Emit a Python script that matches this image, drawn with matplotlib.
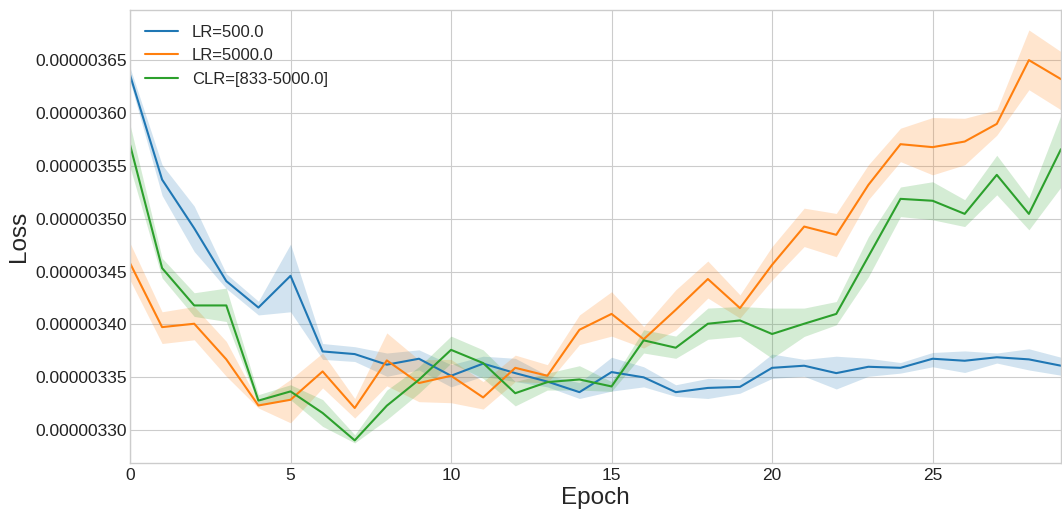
import matplotlib.pyplot as plt
from matplotlib.ticker import FormatStrFormatter

epochs = list(range(30))

# mean loss per epoch (x1e-6) and the band
lr500 = [3.636, 3.537, 3.491, 3.441, 3.416, 3.446, 3.3745, 3.372, 3.362, 3.3676,
         3.3515, 3.363, 3.354, 3.346, 3.336, 3.355, 3.350, 3.336, 3.340, 3.341,
         3.359, 3.361, 3.354, 3.360, 3.359, 3.3676, 3.3657, 3.369, 3.367, 3.361]
lr500_lo = [3.630, 3.522, 3.469, 3.434, 3.409, 3.412, 3.367, 3.365, 3.351, 3.357,
            3.341, 3.351, 3.346, 3.341, 3.330, 3.337, 3.341, 3.332, 3.330, 3.335,
            3.349, 3.351, 3.339, 3.351, 3.354, 3.360, 3.3546, 3.3635, 3.357, 3.352]
lr500_hi = [3.643, 3.551, 3.512, 3.448, 3.422, 3.476, 3.382, 3.379, 3.373, 3.376,
            3.362, 3.370, 3.368, 3.352, 3.345, 3.369, 3.360, 3.343, 3.349, 3.348,
            3.372, 3.367, 3.370, 3.368, 3.364, 3.3735, 3.375, 3.373, 3.377, 3.369]

lr5000 = [3.458, 3.3975, 3.4007, 3.367, 3.3234, 3.3288, 3.3556, 3.321, 3.366, 3.3446,
          3.3515, 3.331, 3.359, 3.3515, 3.395, 3.410, 3.386, 3.4139, 3.443, 3.4155,
          3.4564, 3.4926, 3.4848, 3.532, 3.5705, 3.5677, 3.573, 3.5897, 3.650, 3.632]
lr5000_lo = [3.442, 3.382, 3.3855, 3.351, 3.321, 3.307, 3.340, 3.3115, 3.342, 3.327,
             3.326, 3.320, 3.346, 3.3446, 3.381, 3.389, 3.3777, 3.395, 3.425, 3.406,
             3.442, 3.4737, 3.464, 3.518, 3.554, 3.5415, 3.551, 3.579, 3.622, 3.603]
lr5000_hi = [3.477, 3.412, 3.417, 3.384, 3.327, 3.348, 3.373, 3.330, 3.392, 3.3666,
             3.367, 3.346, 3.371, 3.362, 3.409, 3.431, 3.398, 3.4328, 3.460, 3.428,
             3.4737, 3.510, 3.505, 3.551, 3.5856, 3.5957, 3.595, 3.603, 3.6785, 3.658]

clr = [3.570, 3.4533, 3.418, 3.418, 3.328, 3.3367, 3.3163, 3.2904, 3.3232, 3.3477,
       3.376, 3.3635, 3.335, 3.3455, 3.348, 3.3414, 3.385, 3.378, 3.4007, 3.4038,
       3.391, 3.4007, 3.410, 3.4643, 3.5188, 3.517, 3.5046, 3.5415, 3.5046, 3.5658]
clr_lo = [3.549, 3.444, 3.4076, 3.4028, 3.324, 3.3288, 3.3036, 3.288, 3.310, 3.335,
          3.3635, 3.349, 3.323, 3.338, 3.338, 3.3367, 3.373, 3.368, 3.386, 3.3887,
          3.368, 3.3887, 3.3997, 3.445, 3.502, 3.499, 3.4926, 3.5226, 3.4895, 3.530]
clr_hi = [3.589, 3.4627, 3.430, 3.4344, 3.3336, 3.343, 3.329, 3.2957, 3.338, 3.360,
          3.389, 3.376, 3.346, 3.354, 3.361, 3.346, 3.395, 3.389, 3.4155, 3.417,
          3.4155, 3.4155, 3.4217, 3.483, 3.530, 3.535, 3.518, 3.560, 3.5195, 3.598]

series = [
    ("LR=500.0", lr500, lr500_lo, lr500_hi, "tab:blue"),
    ("LR=5000.0", lr5000, lr5000_lo, lr5000_hi, "tab:orange"),
    ("CLR=[833-5000.0]", clr, clr_lo, clr_hi, "tab:green"),
]

plt.style.use("seaborn-v0_8-whitegrid")
plt.rcParams["font.family"] = ["Liberation Sans", "DejaVu Sans"]

fig = plt.figure(figsize=(10.62, 5.16), dpi=100)
ax = fig.add_axes([130 / 1062, 53 / 516, 931 / 1062, 453 / 516])

for name, mean, lo, hi, col in series:
    m = [v * 1e-6 for v in mean]
    ax.plot(epochs, m, color=col, lw=1.5, label=name)
    ax.fill_between(epochs, [v * 1e-6 for v in lo], [v * 1e-6 for v in hi],
                    color=col, alpha=0.2, lw=0)

ax.set_xlim(0, 29)
ax.set_ylim(3.269e-6, 3.6974e-6)
ax.set_xticks([0, 5, 10, 15, 20, 25])
ax.set_yticks([3.30e-6, 3.35e-6, 3.40e-6, 3.45e-6, 3.50e-6, 3.55e-6, 3.60e-6, 3.65e-6])
ax.yaxis.set_major_formatter(FormatStrFormatter("%.8f"))
ax.tick_params(labelsize=12.5, labelcolor="#222222")
ax.tick_params(axis="y", pad=2)

ax.set_xlabel("Epoch", fontsize=17.5, labelpad=3)
ax.set_ylabel("Loss", fontsize=17.5)

ax.legend(loc="upper left", fontsize=12, frameon=False)

fig.savefig("out.png", dpi=100)
